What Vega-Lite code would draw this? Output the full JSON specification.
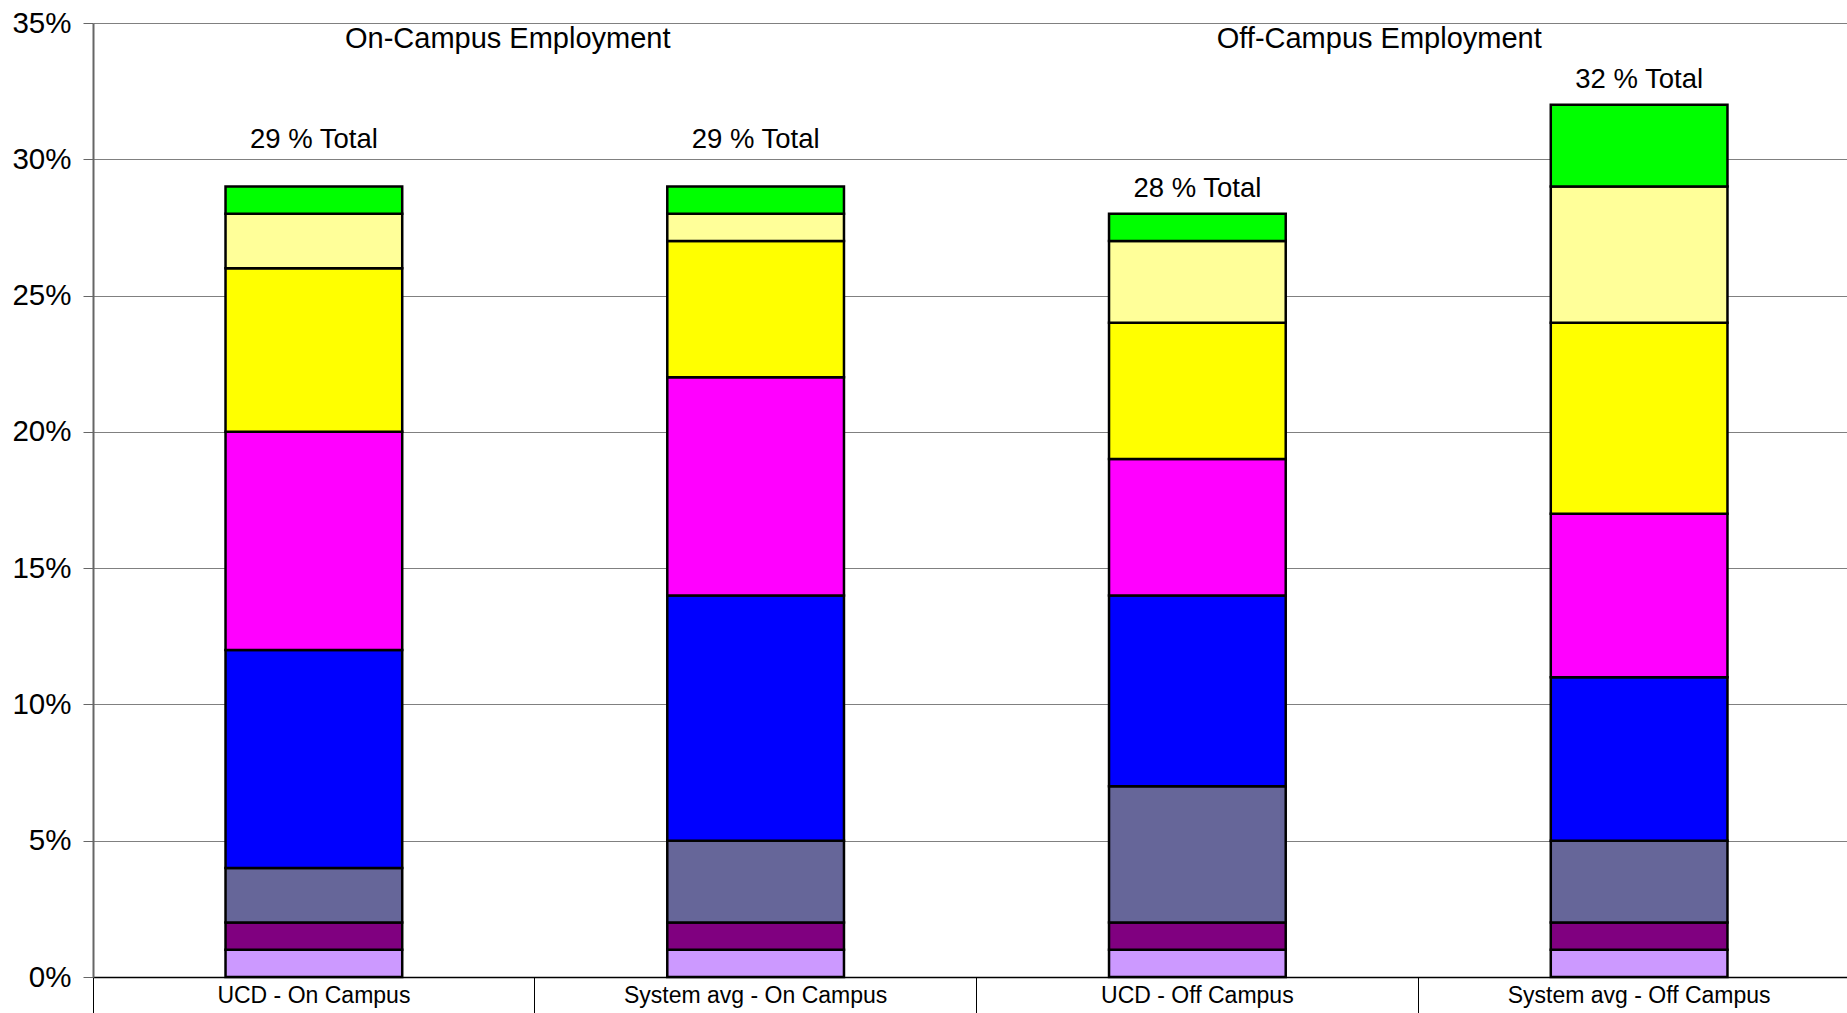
{
  "$schema": "https://vega.github.io/schema/vega-lite/v6.json",
  "autosize": {"type": "none"},
  "padding": {"left": 93, "top": 23, "right": 0, "bottom": 36},
  "width": 1767,
  "height": 954,
  "background": "white",
  "config": {
    "view": {"stroke": null},
    "font": "Liberation Sans",
    "axis": {"labelFont": "Liberation Sans", "labelColor": "black", "title": null}
  },
  "datasets": {
    "segs": [
      {"cat": "UCD - On Campus", "series": "S1", "k": 1, "v": 1},
      {"cat": "UCD - On Campus", "series": "S2", "k": 2, "v": 1},
      {"cat": "UCD - On Campus", "series": "S3", "k": 3, "v": 2},
      {"cat": "UCD - On Campus", "series": "S4", "k": 4, "v": 8},
      {"cat": "UCD - On Campus", "series": "S5", "k": 5, "v": 8},
      {"cat": "UCD - On Campus", "series": "S6", "k": 6, "v": 6},
      {"cat": "UCD - On Campus", "series": "S7", "k": 7, "v": 2},
      {"cat": "UCD - On Campus", "series": "S8", "k": 8, "v": 1},
      {"cat": "System avg - On Campus", "series": "S1", "k": 1, "v": 1},
      {"cat": "System avg - On Campus", "series": "S2", "k": 2, "v": 1},
      {"cat": "System avg - On Campus", "series": "S3", "k": 3, "v": 3},
      {"cat": "System avg - On Campus", "series": "S4", "k": 4, "v": 9},
      {"cat": "System avg - On Campus", "series": "S5", "k": 5, "v": 8},
      {"cat": "System avg - On Campus", "series": "S6", "k": 6, "v": 5},
      {"cat": "System avg - On Campus", "series": "S7", "k": 7, "v": 1},
      {"cat": "System avg - On Campus", "series": "S8", "k": 8, "v": 1},
      {"cat": "UCD - Off Campus", "series": "S1", "k": 1, "v": 1},
      {"cat": "UCD - Off Campus", "series": "S2", "k": 2, "v": 1},
      {"cat": "UCD - Off Campus", "series": "S3", "k": 3, "v": 5},
      {"cat": "UCD - Off Campus", "series": "S4", "k": 4, "v": 7},
      {"cat": "UCD - Off Campus", "series": "S5", "k": 5, "v": 5},
      {"cat": "UCD - Off Campus", "series": "S6", "k": 6, "v": 5},
      {"cat": "UCD - Off Campus", "series": "S7", "k": 7, "v": 3},
      {"cat": "UCD - Off Campus", "series": "S8", "k": 8, "v": 1},
      {"cat": "System avg - Off Campus", "series": "S1", "k": 1, "v": 1},
      {"cat": "System avg - Off Campus", "series": "S2", "k": 2, "v": 1},
      {"cat": "System avg - Off Campus", "series": "S3", "k": 3, "v": 3},
      {"cat": "System avg - Off Campus", "series": "S4", "k": 4, "v": 6},
      {"cat": "System avg - Off Campus", "series": "S5", "k": 5, "v": 6},
      {"cat": "System avg - Off Campus", "series": "S6", "k": 6, "v": 7},
      {"cat": "System avg - Off Campus", "series": "S7", "k": 7, "v": 5},
      {"cat": "System avg - Off Campus", "series": "S8", "k": 8, "v": 3}
    ],
    "totals": [
      {"cat": "UCD - On Campus", "label": "29 % Total", "pos": 30.7},
      {"cat": "System avg - On Campus", "label": "29 % Total", "pos": 30.7},
      {"cat": "UCD - Off Campus", "label": "28 % Total", "pos": 28.9},
      {"cat": "System avg - Off Campus", "label": "32 % Total", "pos": 32.9}
    ]
  },
  "resolve": {"axis": {"x": "independent"}},
  "layer": [
    {
      "data": {"name": "segs"},
      "mark": {"type": "bar", "width": {"band": 0.4}, "stroke": "black", "strokeWidth": 2.5},
      "encoding": {
        "x": {
          "field": "cat", "type": "nominal",
          "scale": {"domain": ["UCD - On Campus", "System avg - On Campus", "UCD - Off Campus", "System avg - Off Campus"], "paddingInner": 0, "paddingOuter": 0},
          "axis": {"orient": "bottom", "labelAngle": 0, "labelFontSize": 23, "labelLimit": 0, "labelPadding": 7, "ticks": false, "domainColor": "black", "domainWidth": 1.5, "title": null}
        },
        "y": {
          "field": "v", "type": "quantitative", "stack": "zero",
          "scale": {"domain": [0, 35], "nice": false},
          "axis": {"values": [0, 5, 10, 15, 20, 25, 30, 35], "labelExpr": "datum.value + '%'", "labelFontSize": 29.5, "labelPadding": 12, "tickSize": 10, "tickColor": "#666666", "domainColor": "#666666", "domainWidth": 2, "gridColor": "#808080", "gridWidth": 1, "grid": true, "title": null}
        },
        "color": {
          "field": "series", "type": "nominal", "legend": null,
          "scale": {"domain": ["S1", "S2", "S3", "S4", "S5", "S6", "S7", "S8"], "range": ["#CC99FF", "#800080", "#666699", "#0000FF", "#FF00FF", "#FFFF00", "#FFFF99", "#00FF00"]}
        },
        "order": {"field": "k", "type": "quantitative"}
      }
    },
    {
      "data": {"name": "totals"},
      "mark": {"type": "text", "fontSize": 27.5, "baseline": "middle", "align": "center", "color": "black"},
      "encoding": {
        "x": {
          "field": "cat", "type": "nominal",
          "scale": {"domain": ["UCD - On Campus", "System avg - On Campus", "UCD - Off Campus", "System avg - Off Campus"], "paddingInner": 0, "paddingOuter": 0},
          "axis": {"orient": "bottom", "labels": false, "domain": false, "ticks": true, "bandPosition": 0, "tickSize": 36, "tickColor": "black", "tickWidth": 1, "grid": false, "title": null}
        },
        "y": {"field": "pos", "type": "quantitative"},
        "text": {"field": "label"}
      }
    },
    {
      "data": {"values": [{"cat": "System avg - On Campus", "label": "On-Campus Employment", "pos": 34.4}]},
      "mark": {"type": "text", "fontSize": 29, "baseline": "middle", "align": "center", "color": "black", "dx": -27},
      "encoding": {
        "x": {
          "field": "cat", "type": "nominal", "bandPosition": 0,
          "scale": {"domain": ["UCD - On Campus", "System avg - On Campus", "UCD - Off Campus", "System avg - Off Campus"], "paddingInner": 0, "paddingOuter": 0},
          "axis": null
        },
        "y": {"field": "pos", "type": "quantitative"},
        "text": {"field": "label"}
      }
    },
    {
      "data": {"values": [{"cat": "System avg - Off Campus", "label": "Off-Campus Employment", "pos": 34.4}]},
      "mark": {"type": "text", "fontSize": 29, "baseline": "middle", "align": "center", "color": "black", "dx": -39},
      "encoding": {
        "x": {
          "field": "cat", "type": "nominal", "bandPosition": 0,
          "scale": {"domain": ["UCD - On Campus", "System avg - On Campus", "UCD - Off Campus", "System avg - Off Campus"], "paddingInner": 0, "paddingOuter": 0},
          "axis": null
        },
        "y": {"field": "pos", "type": "quantitative"},
        "text": {"field": "label"}
      }
    }
  ]
}
